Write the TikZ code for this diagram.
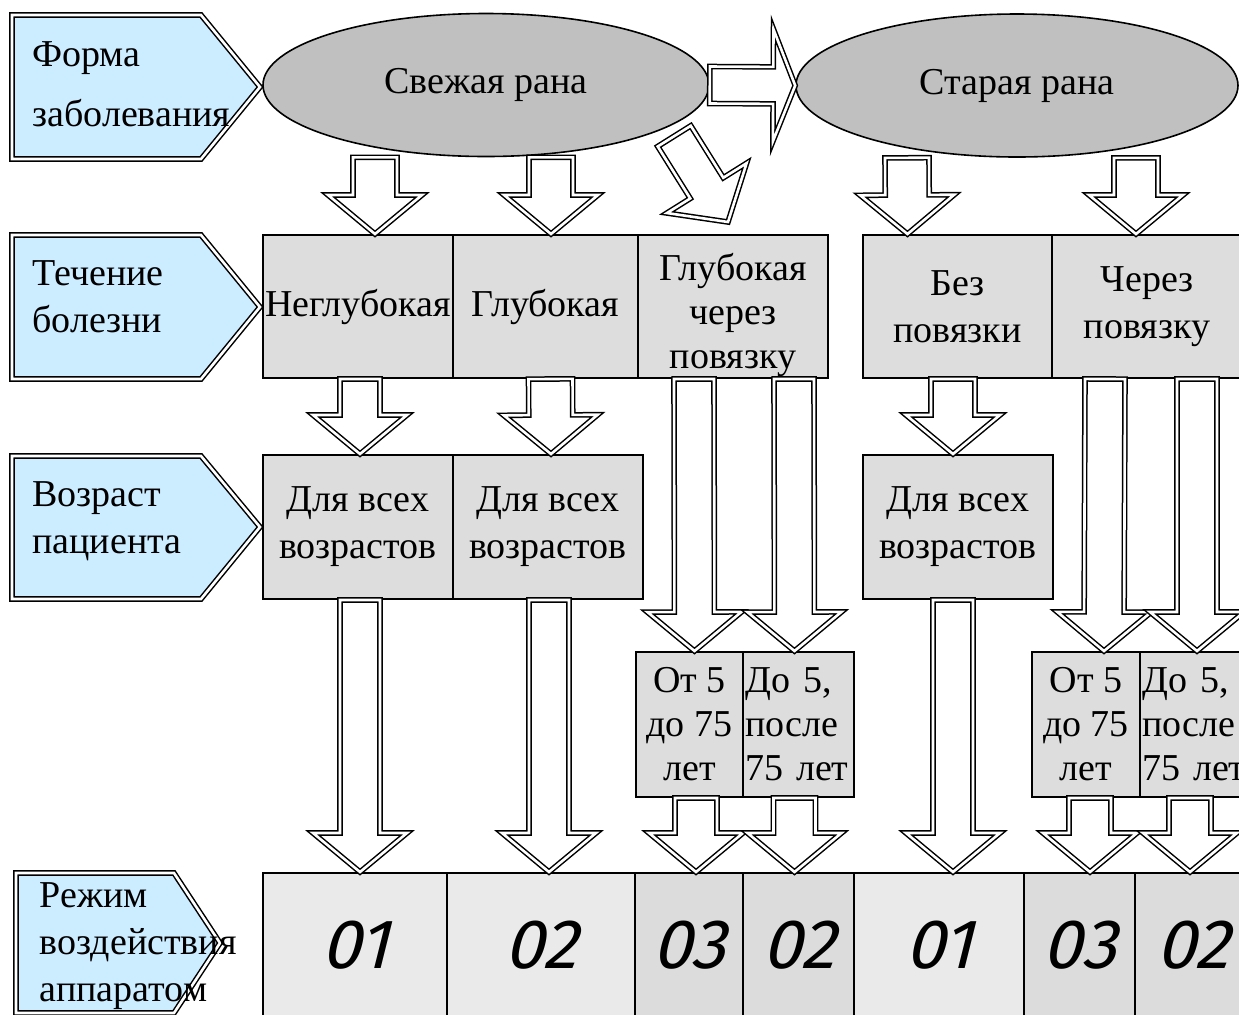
\documentclass[tikz,border=0pt]{standalone}
\usepackage{fontspec}
\setmainfont{Liberation Serif}
\newfontfamily\modefont[FakeSlant=0.25]{Fira Sans}
\usetikzlibrary{calc,positioning,shapes.geometric}
\definecolor{tagblue}{HTML}{CCECFF}
\definecolor{woundgray}{HTML}{C0C0C0}
\definecolor{stagegray}{HTML}{DDDDDD}
\definecolor{modelight}{HTML}{EAEAEA}
\definecolor{modedark}{HTML}{DCDCDC}

% head of the hollow block arrows
\newcommand{\headhw}{23.5pt}
\newcommand{\headlen}{19.5pt}
% \bigarrow[shaft half-width]{(tail)}{(tip)}
\newcommand{\bigarrow}[3][11pt]{%
  \coordinate (atail) at #2;
  \coordinate (ahead) at #3;
  \coordinate (abase) at ($(ahead)!\headlen!(atail)$);
  \draw[blockarrow] ($(atail)!#1!90:(ahead)$) -- ($(abase)!#1!90:(ahead)$)
    -- ($(abase)!\headhw!90:(ahead)$) -- (ahead)
    -- ($(abase)!\headhw!-90:(ahead)$) -- ($(abase)!#1!-90:(ahead)$)
    -- ($(atail)!#1!-90:(ahead)$) -- cycle;
}

\begin{document}
\begin{tikzpicture}[x=0.5pt,y=-0.5pt,
    blockarrow/.style={draw,line width=0.75pt,double=white,double distance=1.3pt,fill=white},
    tag/.style={draw,line width=0.75pt,double=white,double distance=1.3pt,fill=tagblue},
    tagtext/.style={anchor=west,align=left,inner sep=0pt,font=\fontsize{19}{23.5}\selectfont},
    wound/.style={ellipse,draw,line width=0.8pt,fill=woundgray,inner sep=0pt,
                  minimum height=71.5pt,font=\fontsize{19}{23.5}\selectfont},
    stage/.style={rectangle,draw,line width=1pt,fill=stagegray,inner sep=0pt,align=center,
                  font=\fontsize{19}{23.5}\selectfont},
    mode/.style={rectangle,draw,line width=1pt,inner sep=0pt,minimum height=72.5pt,
                 font=\modefont\fontsize{35}{40}\selectfont}]
  \useasboundingbox (0,0) rectangle (1239,1014);

  % left-hand level tags
  \draw[tag] (12,15) -- (201,15) -- (260,87) -- (201,159) -- (12,159) -- cycle;
  \draw[tag] (12,235) -- (201,235) -- (260,307) -- (201,379) -- (12,379) -- cycle;
  \draw[tag] (12,456) -- (201,456) -- (260,527) -- (201,599) -- (12,599) -- cycle;
  \draw[tag] (16,873) -- (174,873) -- (220,943) -- (174,1013) -- (16,1013) -- cycle;
  \node[tagtext,font=\fontsize{19}{30}\selectfont] (formtag) at (32,84) {Форма\\заболевания};
  \node[tagtext] (coursetag) at (32,297) {Течение\\болезни};
  \node[tagtext] (agetag) at (32,521) {Возраст\\пациента};
  \node[tagtext] (modetag) at (39.5,946) {Режим\\воздействия\\аппаратом};

  % wound forms
  \node[wound,minimum width=223pt] (fresh) at (486,85) {Свежая рана};
  \node[wound,minimum width=221pt] (old) at (1017,85.5) {Старая рана};

  % course of the disease
  \node[stage,minimum width=95pt,minimum height=71.5pt] (shallow) at (358,306.5) {Неглубокая};
  \node[stage,minimum width=92.5pt,minimum height=71.5pt] (deep) at (545.5,306.5) {Глубокая};
  \node[stage,minimum width=95pt,minimum height=71.5pt,
        label={[align=center,font=\fontsize{19}{22}\selectfont,yshift=-4pt]center:{Глубокая\\через\\повязку}}]
       (deepdress) at (733,306.5) {};
  \node[stage,minimum width=94.5pt,minimum height=71.5pt] (nodress) at (957.5,306.5) {Без\\повязки};
  \node[stage,minimum width=95pt,minimum height=71.5pt] (dress) at (1147,306.5) {Через\\повязку};

  % patient age
  \node[stage,minimum width=95pt,minimum height=72pt] (age1) at (358,527) {Для всех\\возрастов};
  \node[stage,minimum width=95pt,minimum height=72pt] (age2) at (548,527) {Для всех\\возрастов};
  \node[stage,minimum width=95pt,minimum height=72pt] (age3) at (958,527) {Для всех\\возрастов};
  \node[stage,minimum width=53.5pt,minimum height=72.5pt,font=\fontsize{19}{22}\selectfont]
       (midA) at (689.5,724.5) {От 5\\до 75\\лет};
  \node[stage,minimum width=55.5pt,minimum height=72.5pt,text width=53pt,align=left,
        font=\fontsize{19}{22}\selectfont] (midB) at (798.5,724.5) {До 5,\\после\\75~лет};
  \node[stage,minimum width=54pt,minimum height=72.5pt,font=\fontsize{19}{22}\selectfont]
       (midC) at (1086,724.5) {От 5\\до 75\\лет};
  \node[stage,minimum width=55.5pt,minimum height=72.5pt,text width=53pt,align=left,
        font=\fontsize{19}{22}\selectfont] (midD) at (1195.5,724.5) {До 5,\\после\\75~лет};

  % device modes
  \node[mode,fill=modelight,minimum width=92pt] (m1) at (355,945.5) {01};
  \node[mode,fill=modelight,minimum width=94pt] (m2) at (541,945.5) {02};
  \node[mode,fill=modedark,minimum width=54pt] (m3) at (689,945.5) {03};
  \node[mode,fill=modedark,minimum width=55.5pt] (m4) at (798.5,945.5) {02};
  \node[mode,fill=modelight,minimum width=85pt] (m5) at (939,945.5) {01};
  \node[mode,fill=modedark,minimum width=55.5pt] (m6) at (1079.5,945.5) {03};
  \node[mode,fill=modedark,minimum width=57.5pt] (m7) at (1192.5,945.5) {02};

  % arrows, top level
  {\renewcommand{\headhw}{28pt}\renewcommand{\headlen}{11pt}
   \bigarrow[9.25pt]{(fresh.east)}{(old.west)}}
  \bigarrow{($(fresh.south)+(-111,0)$)}{($(shallow.north)+(17,0)$)}
  \bigarrow{($(fresh.south)+(65,0)$)}{($(deep.north)+(5.5,0)$)}
  {\renewcommand{\headhw}{23.5pt}\renewcommand{\headlen}{20pt}
   \bigarrow[9.75pt]{($(fresh.south east)+(30,0)$)}{($(deepdress.north)+(-5,-12)$)}}
  \bigarrow{($(old.south)+(-110,0)$)}{($(nodress.north)+(-50,0)$)}
  \bigarrow{($(old.south)+(119,0)$)}{($(dress.north)+(-11,0)$)}

  % arrows, course to age
  \bigarrow[10pt]{($(shallow.south)+(2,0)$)}{($(age1.north)+(2,0)$)}
  \bigarrow{($(deep.south)+(5,0)$)}{($(age2.north)+(3,0)$)}
  \bigarrow{($(nodress.south)+(-4.5,0)$)}{($(age3.north)+(-5,0)$)}
  \bigarrow[10pt]{($(deepdress.south)+(-39,0)$)}{($(midA.north)+(5,0)$)}
  \bigarrow[10pt]{($(deepdress.south)+(61,0)$)}{($(midB.north)+(-4,0)$)}
  \bigarrow[10pt]{($(dress.south)+(-42,0)$)}{($(midC.north)+(18,0)$)}
  \bigarrow[10pt]{($(dress.south)+(50,0)$)}{($(midD.north)+(1.5,0)$)}

  % arrows, age to mode
  \bigarrow[10pt]{($(age1.south)+(2,0)$)}{($(m1.north)+(5,0)$)}
  \bigarrow[10pt]{($(age2.south)+(1,0)$)}{($(m2.north)+(8,0)$)}
  \bigarrow[10pt]{($(age3.south)+(-5,0)$)}{($(m5.north)+(14,0)$)}
  \bigarrow[10.5pt]{($(midA.south)+(6.5,0)$)}{($(m3.north)+(7,0)$)}
  \bigarrow[10.5pt]{($(midB.south)+(-4,0)$)}{($(m4.north)+(-4,0)$)}
  \bigarrow[10.5pt]{($(midC.south)+(4,0)$)}{($(m6.north)+(10.5,0)$)}
  \bigarrow[10.5pt]{($(midD.south)+(-5.5,0)$)}{($(m7.north)+(-2.5,0)$)}
\end{tikzpicture}
\end{document}
